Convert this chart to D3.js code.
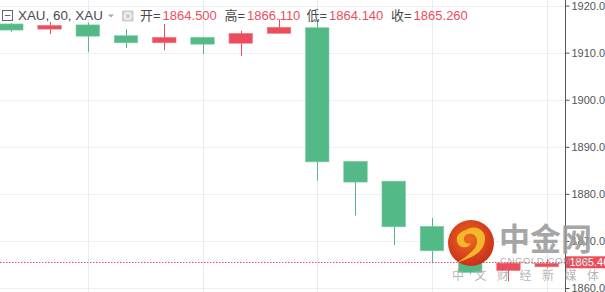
<!DOCTYPE html>
<html>
<head>
<meta charset="utf-8">
<script src="https://cdn.jsdelivr.net/npm/d3@7"></script>
<style>
  body { margin: 0; background: #fff; }
  svg { display: block; }
</style>
</head>
<body>
<div id="chart"></div>
<script>
// hourly XAU candles
var candleIdx = [0, 1, 2, 3, 4, 5, 6, 7, 8, 9, 10, 11, 12, 13, 14];
var opens  = [1916.1, 1915.0, 1915.9, 1913.6, 1912.1, 1913.25, 1912.0, 1914.1, 1915.3, 1886.9, 1882.7, 1873.1, 1867.9, 1863.7, 1864.5];
var highs  = [1916.3, 1916.5, 1916.4, 1915.0, 1916.1, 1913.4, 1914.65, 1917.1, 1916.8, 1886.9, 1882.7, 1874.9, 1868.0, 1865.3, 1866.11];
var lows   = [1914.4, 1913.95, 1910.1, 1911.0, 1910.55, 1909.7, 1909.3, 1914.1, 1882.8, 1875.4, 1869.15, 1865.5, 1862.9, 1861.4, 1864.14];
var closes = [1914.8, 1915.8, 1913.5, 1912.1, 1913.25, 1911.8, 1914.1, 1915.4, 1886.8, 1882.5, 1873.0, 1867.9, 1863.3, 1865.3, 1865.26];

var yTicks = [1860, 1870, 1880, 1890, 1900, 1910, 1920];
var gridIdx = [2, 5, 8, 11, 14];
var lastPrice = 1865.46;

var headerLabels = ["开=", "高=", "低=", "收="];
var headerValues = ["1864.500", "1866.110", "1864.140", "1865.260"];

var width = 605, height = 292, axisX = 565.5;
var upColor = "#eb4d5c", downColor = "#53b987";
var font = "'Liberation Sans', Arial, 'Noto Sans CJK SC', sans-serif";

var svg = d3.select("#chart").append("svg")
    .attr("width", width)
    .attr("height", height);

var x = d3.scaleLinear().domain([0, 14]).range([11.3, 546.7]);
var y = d3.scaleLinear().domain([1860, 1920]).range([288, 5.6]);
var bodyW = 23.5;

// grid
svg.append("g").selectAll("line")
    .data(yTicks)
    .enter().append("line")
    .attr("x1", 0).attr("x2", axisX)
    .attr("y1", function(d) { return Math.round(y(d)) + 0.5; })
    .attr("y2", function(d) { return Math.round(y(d)) + 0.5; })
    .attr("stroke", "#edf1f5");

svg.append("g").selectAll("line")
    .data(gridIdx)
    .enter().append("line")
    .attr("x1", function(d) { return Math.round(x(d)) + 0.5; })
    .attr("x2", function(d) { return Math.round(x(d)) + 0.5; })
    .attr("y1", 0).attr("y2", height)
    .attr("stroke", "#e6eef3");

// candles
var candles = svg.append("g").selectAll("g")
    .data(candleIdx)
    .enter().append("g");

candles.append("line")
    .attr("x1", function(i) { return Math.round(x(i)) + 0.5; })
    .attr("x2", function(i) { return Math.round(x(i)) + 0.5; })
    .attr("y1", function(i) { return y(highs[i]); })
    .attr("y2", function(i) { return y(lows[i]); })
    .attr("stroke", function(i) { return closes[i] >= opens[i] ? upColor : downColor; })
    .attr("stroke-width", 1);

candles.append("rect")
    .attr("x", function(i) { return x(i) - bodyW / 2; })
    .attr("width", bodyW)
    .attr("y", function(i) { return y(Math.max(opens[i], closes[i])); })
    .attr("height", function(i) { return Math.max(1, Math.abs(y(opens[i]) - y(closes[i]))); })
    .attr("fill", function(i) { return closes[i] >= opens[i] ? upColor : downColor; })
    .attr("stroke", function(i) { return closes[i] >= opens[i] ? "#f07a86" : "#7fcca6"; })
    .attr("stroke-width", 0.6);

// last price line
svg.append("line")
    .attr("x1", 0).attr("x2", axisX)
    .attr("y1", Math.round(y(lastPrice)) + 0.5)
    .attr("y2", Math.round(y(lastPrice)) + 0.5)
    .attr("stroke", upColor)
    .attr("stroke-dasharray", "1.5,1.5");

// right axis
var axis = svg.append("g")
    .attr("transform", "translate(" + axisX + ",0)")
    .call(d3.axisRight(y).tickValues(yTicks).tickSize(4).tickFormat(d3.format(".2f")));
axis.select(".domain").attr("stroke", "#555").attr("d", "M0,0V" + height);
axis.selectAll(".tick line").attr("stroke", "#555");
axis.selectAll(".tick text")
    .attr("x", 6)
    .attr("fill", "#555")
    .style("font-family", font)
    .style("font-size", "11px");

// price label
svg.append("rect")
    .attr("x", axisX + 0.5).attr("y", y(lastPrice) - 6)
    .attr("width", width - axisX).attr("height", 12)
    .attr("fill", upColor);
svg.append("text")
    .attr("x", axisX + 4).attr("y", y(lastPrice) + 4)
    .attr("fill", "#fff")
    .style("font-family", font).style("font-size", "11px")
    .text(d3.format(".2f")(lastPrice));

// header
var hdr = svg.append("g");
hdr.append("rect").attr("x", 2.5).attr("y", 10.5).attr("width", 10).attr("height", 10)
    .attr("fill", "#fff").attr("stroke", "#666");
hdr.append("line").attr("x1", 5).attr("x2", 10.5).attr("y1", 15.5).attr("y2", 15.5).attr("stroke", "#666");
hdr.append("text").attr("x", 18).attr("y", 20)
    .attr("fill", "#4a4a4a")
    .style("font-family", font).style("font-size", "13.4px")
    .text("XAU, 60, XAU");
hdr.append("path").attr("d", "M108,14.5L114,14.5L111,17.5Z").attr("fill", "#aaa");
hdr.append("rect").attr("x", 122).attr("y", 10.5).attr("width", 11.5).attr("height", 11)
    .attr("fill", "#cfcfcf");
hdr.append("circle").attr("cx", 127.8).attr("cy", 16).attr("r", 3.2)
    .attr("fill", "none").attr("stroke", "#fff").attr("stroke-width", 1.3);

var labelX = [140, 224.5, 306.5, 391];
headerLabels.forEach(function(lab, k) {
    var t = hdr.append("text").attr("x", labelX[k]).attr("y", 20)
        .style("font-family", font).style("font-size", "13px");
    t.append("tspan").attr("fill", "#4a4a4a").text(lab);
    t.append("tspan").attr("fill", "#ec4d5f").attr("dx", 2).text(headerValues[k]);
});

// watermark
var defs = svg.append("defs");
var grad = defs.append("radialGradient").attr("id", "lg").attr("cx", "45%").attr("cy", "40%").attr("r", "60%");
grad.append("stop").attr("offset", "0%").attr("stop-color", "#ee6a1e");
grad.append("stop").attr("offset", "100%").attr("stop-color", "#c9301b");

var wm = svg.append("g");
wm.append("circle").attr("cx", 471).attr("cy", 243).attr("r", 23)
    .attr("fill", "url(#lg)");
wm.append("path")
    .attr("d", "M466,230 C474,224 486,229 485,240 C484,252 472,258 458,262 C470,254 478,248 477,240 C476,233 468,232 465,236 C462,240 466,245 471,243 C468,250 458,248 457,241 C456,235 460,232 466,230 Z")
    .attr("fill", "#f6b62c");
wm.append("text").attr("x", 499).attr("y", 250)
    .attr("fill", "#9a9a9a").attr("fill-opacity", 0.9)
    .style("font-family", "'Noto Sans CJK SC', sans-serif").style("font-size", "31px").style("font-weight", "bold")
    .text("中金网");
wm.append("text").attr("x", 500).attr("y", 264)
    .attr("fill", "#a0a0a0").attr("fill-opacity", 0.85)
    .style("font-family", font).style("font-size", "9.5px").style("letter-spacing", "0.6px")
    .text("CNGOLD.COM.CN");
wm.append("text").attr("x", 452).attr("y", 280)
    .attr("fill", "#a8a8a8").attr("fill-opacity", 0.85)
    .style("font-family", "'Noto Sans CJK SC', sans-serif").style("font-size", "12px").style("letter-spacing", "10.5px")
    .text("中文财经新媒体");
</script>
</body>
</html>
